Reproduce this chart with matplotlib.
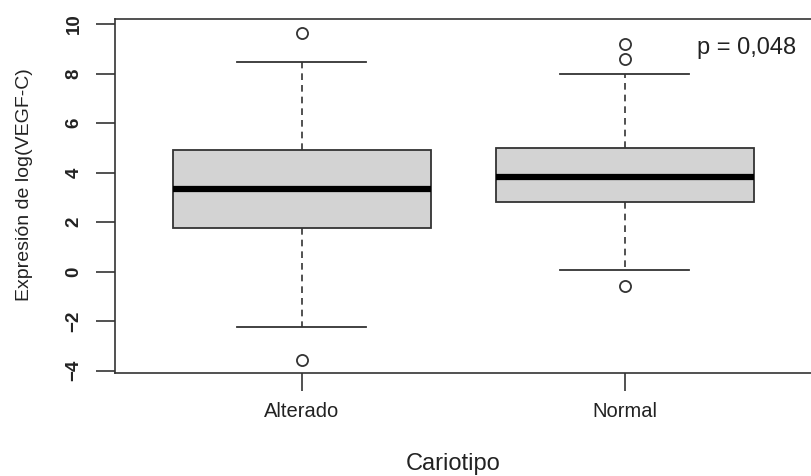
from matplotlib import pyplot as plt
import numpy as np

# boxplot summaries per karyotype group
groups = ["Alterado", "Normal"]
q1 = [1.78, 2.80]
medians = [3.35, 3.82]
q3 = [4.90, 5.01]
whisker_low = [-2.23, 0.07]
whisker_high = [8.47, 7.98]
outliers = [[9.65, -3.58], [9.18, 8.58, -0.58]]
p_text = "p = 0,048"

LABEL_FONT = "Liberation Sans"
TXT = "#222222"

fig = plt.figure(figsize=(8.11, 4.76), dpi=100)
ax = fig.add_axes([0.1414, 0.217, 0.8598, 0.7425])

stats = []
for i, g in enumerate(groups):
    stats.append(dict(label=g, med=medians[i], q1=q1[i], q3=q3[i],
                      whislo=whisker_low[i], whishi=whisker_high[i],
                      fliers=outliers[i]))

ax.bxp(stats, positions=[1, 2], widths=0.8, patch_artist=True,
       boxprops=dict(facecolor="#d3d3d3", edgecolor="#333333", linewidth=1.3),
       medianprops=dict(color="black", linewidth=4.5, solid_capstyle="butt"),
       whiskerprops=dict(color="#333333", linewidth=1.2, linestyle=(0, (4, 3))),
       capprops=dict(color="#333333", linewidth=1.3),
       capwidths=0.4,
       flierprops=dict(marker="o", markersize=8, markerfacecolor="none",
                       markeredgecolor="#333333", markeredgewidth=1.3))

ax.set_xlim(0.42, 2.58)
ax.set_ylim(-4.08, 10.19)
ax.set_yticks(np.arange(-4, 11, 2))
ax.set_yticklabels([str(v).replace("-", "\u2212") for v in range(-4, 11, 2)],
                   rotation=90, va="center", fontweight="bold", fontsize=13.5,
                   family="Liberation Sans", color=TXT)
ax.set_xticks([1, 2])
ax.set_xticklabels(groups, fontsize=14.5, family=LABEL_FONT, color=TXT)
ax.tick_params(axis="y", length=14, width=1.2, color="#333333", pad=9)
ax.tick_params(axis="x", length=13, width=1.2, color="#333333", pad=8)
for s in ax.spines.values():
    s.set_color("#333333")
    s.set_linewidth(1.2)

fig.text(453 / 811, 1 - 464 / 476, "Cariotipo", ha="center", va="center",
         fontsize=17, family=LABEL_FONT, color=TXT)
fig.text(25 / 811, 1 - 185 / 476, "Expresión de log(VEGF-C)", rotation=90,
         ha="center", va="center", fontsize=14, family=LABEL_FONT, color=TXT)
fig.text(697 / 811, 1 - 48 / 476, p_text, ha="left", va="center",
         fontsize=17, family=LABEL_FONT, color=TXT)

fig.savefig("out.png", dpi=100)
